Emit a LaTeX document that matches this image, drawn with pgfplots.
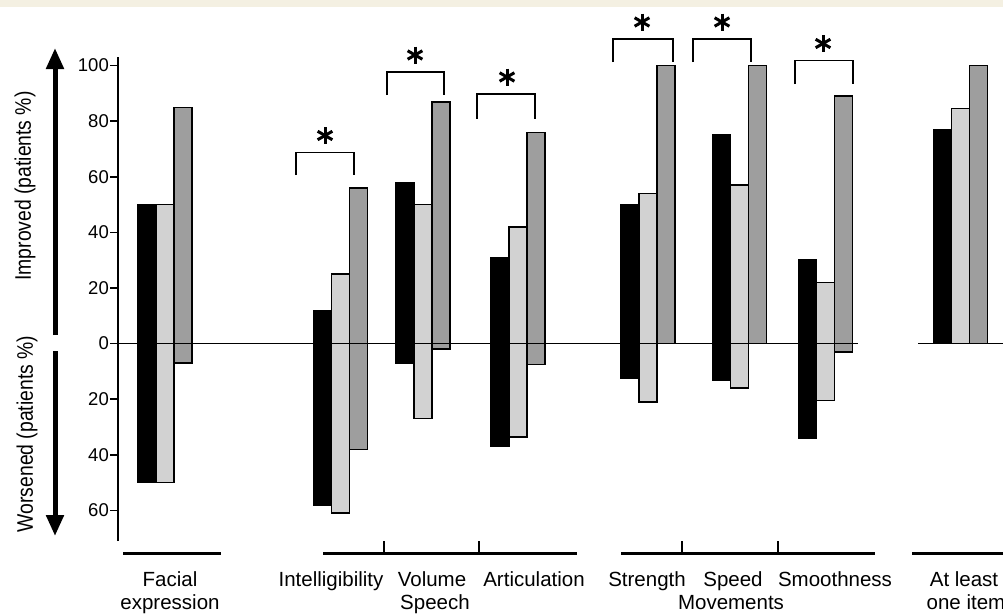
\documentclass[border=0pt]{standalone}
\usepackage{pgfplots}
\pgfplotsset{compat=1.18}
\usepackage{fontspec}
\setmainfont{Liberation Sans}
\usetikzlibrary{arrows.meta,calc}
\definecolor{lightbar}{HTML}{D2D2D2}
\definecolor{darkbar}{HTML}{9E9E9E}
\definecolor{beige}{HTML}{F4F0E2}
\newcommand{\lab}{\fontsize{20.5}{24}\selectfont}
\begin{document}
\begin{tikzpicture}[x=1pt,y=1pt]
\fill[beige] (0,0) rectangle (1003,-7);
\begin{axis}[
  at={(118pt,-541pt)}, anchor=south west,
  scale only axis, width=885pt, height=483.72pt,
  xmin=118, xmax=1003, ymin=-71, ymax=103,
  axis x line=none, axis y line=left,
  axis line style={-, line width=1.5pt},
  ytick={-60,-40,-20,0,20,40,60,80,100},
  yticklabels={60,40,20,0,20,40,60,80,100},
  tick align=outside, major tick length=8pt,
  tick style={line width=1.5pt, black},
  yticklabel style={font=\fontsize{18.5}{18.5}\selectfont, inner sep=1pt},
  /pgf/number format/assume math mode=true,
  ybar, bar width=18,
  clip=false,
]
% black series
\addplot[fill=black, draw=black, line width=1.5pt, bar shift=-18] coordinates {
 (165,50) (340.5,12) (423,58) (518,31) (648,50) (739.5,75) (825.5,30) (960.5,77)};
\addplot[fill=black, draw=black, line width=1.5pt, bar shift=-18] coordinates {
 (165,-50) (340.5,-58) (423,-7) (518,-37) (648,-12.5) (739.5,-13) (825.5,-34)};
% light grey series
\addplot[fill=lightbar, draw=black, line width=1.5pt, bar shift=0] coordinates {
 (165,50) (340.5,25) (423,50) (518,42) (648,54) (739.5,57) (825.5,22) (960.5,84.5)};
\addplot[fill=lightbar, draw=black, line width=1.5pt, bar shift=0] coordinates {
 (165,-50) (340.5,-61) (423,-27) (518,-33.5) (648,-21) (739.5,-16) (825.5,-20.5)};
% dark grey series
\addplot[fill=darkbar, draw=black, line width=1.5pt, bar shift=18] coordinates {
 (165,85) (340.5,56) (423,87) (518,76) (648,100) (739.5,100) (825.5,89) (960.5,100)};
\addplot[fill=darkbar, draw=black, line width=1.5pt, bar shift=18] coordinates {
 (165,-7) (340.5,-38) (423,-2) (518,-7.5) (825.5,-3)};
\draw[line width=1.5pt] (axis cs:110,0) -- (axis cs:858,0);
\draw[line width=1.5pt] (axis cs:918,0) -- (axis cs:1010,0);
\end{axis}
% y-axis arrows and labels
\draw[line width=5pt, -{Triangle[width=17pt,length=21pt]}] (55,-335) -- (55,-48);
\draw[line width=5pt, -{Triangle[width=17pt,length=21pt]}] (55,-351) -- (55,-536);
\node[rotate=90] at (25,-186) {\fontsize{22.5}{22.5}\selectfont\scalebox{0.86}[1]{Improved (patients \%)}};
\node[rotate=90] at (27,-434) {\fontsize{22.5}{22.5}\selectfont\scalebox{0.86}[1]{Worsened (patients \%)}};
% significance brackets with asterisks
\foreach \a/\b/\t/\l/\s in {296/354/152.5/175/325, 387/444/72/95/415, 477/535/94/118.5/507, 613/673/39/62/642, 693/751/39/62/722, 795/853/60.5/84/823}{
  \draw[line width=1.5pt] (\a,-\l) -- (\a,-\t) -- (\b,-\t) -- (\b,-\l);
  \foreach \ang in {90,30,150}{
    \draw[line width=3pt] ($(\s,-\t+17)+(\ang:8.5)$) -- ($(\s,-\t+17)+(\ang+180:8.5)$);
  }
}
% bottom group lines
\draw[line width=3pt] (123,-553) -- (221,-553);
\draw[line width=3pt] (323,-553) -- (577,-553);
\draw[line width=2pt] (384,-553) -- (384,-541);
\draw[line width=2pt] (479,-553) -- (479,-541);
\draw[line width=3pt] (621,-553) -- (875,-553);
\draw[line width=2pt] (682,-553) -- (682,-541);
\draw[line width=2pt] (778,-553) -- (778,-541);
\draw[line width=3pt] (912,-553) -- (1010,-553);
% category labels
\node[anchor=base] at (170,-586) {\lab Facial};
\node[anchor=base] at (170,-609) {\lab expression};
\node[anchor=base] at (331,-586) {\lab Intelligibility};
\node[anchor=base] at (432,-586) {\lab Volume};
\node[anchor=base] at (534,-586) {\lab Articulation};
\node[anchor=base] at (435,-609) {\lab Speech};
\node[anchor=base] at (647,-586) {\lab Strength};
\node[anchor=base] at (733,-586) {\lab Speed};
\node[anchor=base] at (835,-586) {\lab Smoothness};
\node[anchor=base] at (731,-609) {\lab Movements};
\node[anchor=base] at (964,-586) {\lab At least};
\node[anchor=base] at (966,-609) {\lab one item};
\pgfresetboundingbox
\useasboundingbox (0,0) rectangle (1003,-613);
\end{tikzpicture}
\end{document}
